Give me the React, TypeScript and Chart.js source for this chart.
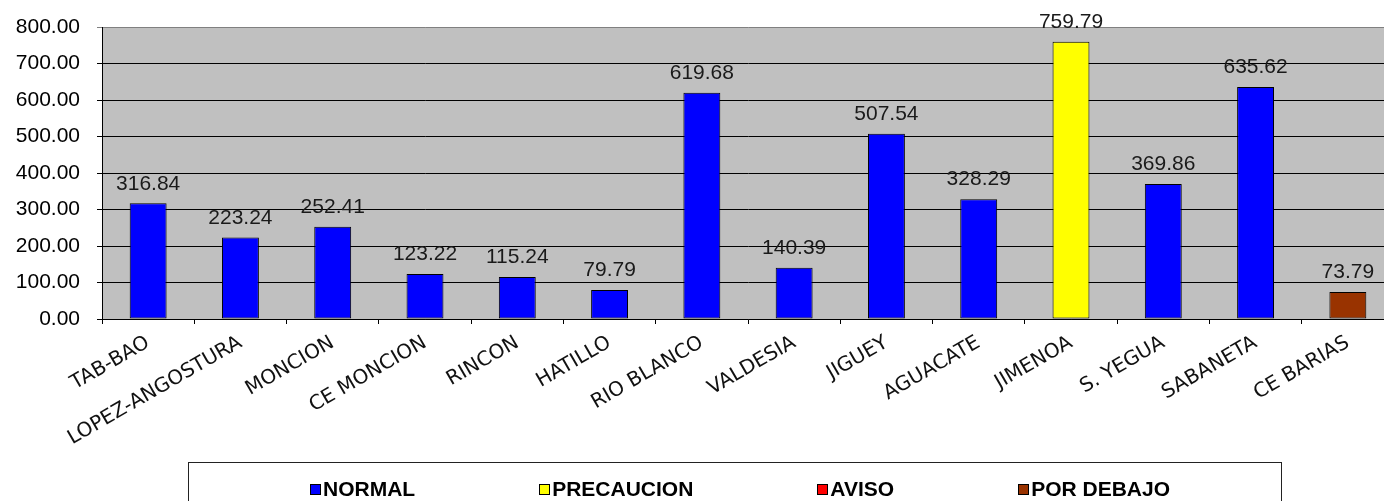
import React, { useEffect, useRef } from "react";
import { Chart, registerables } from "chart.js";

Chart.register(...registerables);

const categories = [
  "TAB-BAO",
  "LOPEZ-ANGOSTURA",
  "MONCION",
  "CE MONCION",
  "RINCON",
  "HATILLO",
  "RIO BLANCO",
  "VALDESIA",
  "JIGUEY",
  "AGUACATE",
  "JIMENOA",
  "S. YEGUA",
  "SABANETA",
  "CE BARIAS",
];

const values = [
  316.84, 223.24, 252.41, 123.22, 115.24, 79.79, 619.68, 140.39, 507.54,
  328.29, 759.79, 369.86, 635.62, 73.79,
];

const barStatus = [
  "NORMAL",
  "NORMAL",
  "NORMAL",
  "NORMAL",
  "NORMAL",
  "NORMAL",
  "NORMAL",
  "NORMAL",
  "NORMAL",
  "NORMAL",
  "PRECAUCION",
  "NORMAL",
  "NORMAL",
  "POR DEBAJO",
];

const legendLabels = ["NORMAL", "PRECAUCION", "AVISO", "POR DEBAJO"];
const legendColors = ["#0000FF", "#FFFF00", "#FF0000", "#993300"];

const yMin = 0;
const yMax = 800;
const yStep = 100;

const colorFor = (s: string) => legendColors[legendLabels.indexOf(s)];

const plotBgPlugin = {
  id: "plotBg",
  beforeDraw(chart: any) {
    const { ctx, chartArea } = chart;
    ctx.save();
    ctx.fillStyle = "#C0C0C0";
    ctx.fillRect(
      chartArea.left,
      chartArea.top,
      chartArea.right - chartArea.left,
      chartArea.bottom - chartArea.top
    );
    ctx.restore();
  },
};

const valueLabelPlugin = {
  id: "valueLabels",
  afterDatasetsDraw(chart: any) {
    const { ctx } = chart;
    const meta = chart.getDatasetMeta(0);
    ctx.save();
    ctx.font = '21px "Liberation Sans", Arial, sans-serif';
    ctx.fillStyle = "#1a1a1a";
    ctx.textAlign = "center";
    ctx.textBaseline = "bottom";
    meta.data.forEach((el: any, i: number) => {
      ctx.fillText(values[i].toFixed(2), el.x, el.y - 9);
    });
    ctx.restore();
  },
};

const legendBoxPlugin = {
  id: "legendBox",
  afterDraw(chart: any) {
    const { ctx } = chart;
    ctx.save();
    ctx.fillStyle = "#FFFFFF";
    ctx.strokeStyle = "#222222";
    ctx.lineWidth = 1;
    ctx.fillRect(188.5, 462.5, 1093, 60);
    ctx.strokeRect(188.5, 462.5, 1093, 60);
    ctx.font = 'bold 21px "Liberation Sans", Arial, sans-serif';
    const box = 10;
    const boxGap = 3;
    const gap = 124;
    const widths = legendLabels.map((l) => ctx.measureText(l).width);
    const total =
      widths.reduce((a, b) => a + b, 0) +
      legendLabels.length * (box + boxGap) +
      gap * (legendLabels.length - 1);
    let x = 740 - total / 2;
    const cy = 489;
    legendLabels.forEach((label, i) => {
      ctx.fillStyle = legendColors[i];
      ctx.fillRect(Math.round(x) + 0.5, cy - 5 + 0.5, box, box);
      ctx.strokeStyle = "#000";
      ctx.strokeRect(Math.round(x) + 0.5, cy - 5 + 0.5, box, box);
      ctx.fillStyle = "#000";
      ctx.textAlign = "left";
      ctx.textBaseline = "middle";
      ctx.fillText(label, x + box + boxGap, cy + 1);
      x += box + boxGap + widths[i] + gap;
    });
    ctx.restore();
  },
};

export default function App() {
  const canvasRef = useRef<HTMLCanvasElement | null>(null);

  useEffect(() => {
    if (!canvasRef.current) return;
    const chart = new Chart(canvasRef.current, {
      type: "bar",
      data: {
        labels: categories,
        datasets: [
          {
            data: values,
            backgroundColor: barStatus.map(colorFor),
            borderColor: "#000000",
            borderWidth: 1,
            borderSkipped: false,
            categoryPercentage: 1,
            barPercentage: 0.4,
          },
        ],
      },
      options: {
        responsive: false,
        animation: false,
        devicePixelRatio: 1,
        layout: { padding: { top: 27, right: 6, left: 0, bottom: 0 } },
        plugins: {
          legend: { display: false },
          tooltip: { enabled: false },
        },
        scales: {
          x: {
            offset: true,
            grid: {
              display: true,
              offset: true,
              drawOnChartArea: false,
              drawTicks: true,
              tickLength: 5,
              color: "#000000",
            },
            border: { display: true, color: "#000000", width: 1 },
            ticks: {
              autoSkip: false,
              minRotation: 30,
              maxRotation: 30,
              padding: 7,
              color: "#111111",
              font: { family: '"DejaVu Sans", Verdana, sans-serif', size: 20 },
            },
            afterFit(scale: any) {
              scale.height = 182;
              scale.paddingLeft = 0;
              scale.paddingRight = 0;
            },
          },
          y: {
            min: yMin,
            max: yMax,
            grid: {
              color: (c: any) =>
                c.tick && c.tick.value === yMax ? "#808080" : "#000000",
              lineWidth: 1,
              drawTicks: true,
              tickLength: 5,
            },
            border: { display: true, color: "#000000", width: 1 },
            ticks: {
              stepSize: yStep,
              padding: 17,
              color: "#000000",
              font: { family: '"Liberation Sans", Arial, sans-serif', size: 21 },
              callback: (v: any) => Number(v).toFixed(2),
            },
            afterFit(scale: any) {
              scale.width = 102;
              scale.paddingTop = 0;
              scale.paddingBottom = 0;
            },
          },
        },
      },
      plugins: [plotBgPlugin, valueLabelPlugin, legendBoxPlugin],
    });
    return () => chart.destroy();
  }, []);

  return (
    <div
      style={{
        position: "absolute",
        left: 0,
        top: 0,
        width: 1384,
        height: 501,
        overflow: "hidden",
        background: "#FFFFFF",
      }}
    >
      <canvas ref={canvasRef} width={1400} height={501} />
    </div>
  );
}
